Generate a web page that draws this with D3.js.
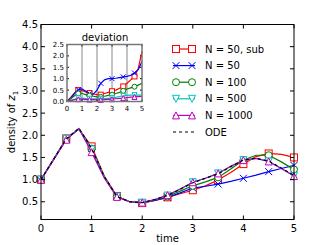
<!DOCTYPE html>
<html>
<head>
<meta charset="utf-8">
<script src="https://cdn.jsdelivr.net/npm/d3@7"></script>
<style>
	body{margin:0;background:#fff}
	svg{display:block;font-family:'DejaVu Sans',sans-serif}
</style>
</head>
<body>
<div id="chart"></div>
<script>
// time grid (0.25 steps), markers every 0.5 on the main plot
var time=[0,0.25,0.5,0.75,1,1.25,1.5,1.75,2,2.25,2.5,2.75,3,3.25,3.5,3.75,4,4.25,4.5,4.75,5]
var xTicks=[0,1,2,3,4,5]
var yTicks=[0.5,1.0,1.5,2.0,2.5,3.0,3.5,4.0,4.5]
var insetYTicks=[0.0,0.5,1.0,1.5,2.0,2.5]
var labels=['N = 50, sub','N = 50','N = 100','N = 500','N = 1000','ODE']

// density of z1
var densSub =[1.0,1.46,1.93,2.14,1.75,1.08,0.63,0.50,0.47,0.53,0.60,0.68,0.76,0.86,0.99,1.16,1.35,1.52,1.59,1.57,1.50]
var dens50  =[1.0,1.46,1.92,2.14,1.70,1.06,0.62,0.50,0.48,0.53,0.60,0.70,0.81,0.85,0.90,0.96,1.03,1.10,1.18,1.25,1.32]
var dens100 =[1.0,1.46,1.92,2.15,1.70,1.07,0.62,0.50,0.48,0.54,0.62,0.74,0.86,0.95,1.05,1.24,1.44,1.55,1.55,1.40,1.23]
var dens500 =[1.0,1.46,1.92,2.15,1.68,1.06,0.62,0.50,0.48,0.55,0.64,0.79,0.94,1.03,1.14,1.30,1.44,1.48,1.41,1.25,1.08]
var dens1000=[1.0,1.45,1.90,2.15,1.62,1.04,0.61,0.50,0.48,0.55,0.65,0.79,0.94,1.03,1.14,1.30,1.44,1.48,1.41,1.25,1.08]
var densODE =[1.0,1.46,1.92,2.16,1.70,1.07,0.62,0.50,0.48,0.55,0.64,0.78,0.93,1.03,1.13,1.29,1.44,1.48,1.42,1.26,1.10]

// deviation from ODE (inset)
var devSub =[0,0.18,0.38,0.50,0.48,0.42,0.37,0.33,0.30,0.30,0.35,0.40,0.45,0.50,0.58,0.66,0.80,0.95,1.10,1.45,2.20]
var dev50  =[0,0.15,0.35,0.52,0.55,0.45,0.34,0.32,0.50,0.80,0.95,1.00,1.00,1.02,1.05,1.08,1.10,1.15,1.25,1.40,1.75]
var dev100 =[0,0.12,0.25,0.35,0.35,0.30,0.26,0.23,0.20,0.20,0.23,0.27,0.30,0.35,0.40,0.47,0.55,0.60,0.65,0.72,0.80]
var dev500 =[0,0.05,0.10,0.15,0.15,0.13,0.12,0.12,0.12,0.12,0.13,0.14,0.15,0.18,0.22,0.25,0.27,0.28,0.28,0.28,0.28]
var dev1000=[0,0.04,0.08,0.10,0.10,0.09,0.08,0.08,0.07,0.07,0.08,0.09,0.10,0.12,0.14,0.15,0.17,0.19,0.20,0.21,0.22]

var styles=[
	{color:'#ff0000', marker:'square'},
	{color:'#0000ff', marker:'cross'},
	{color:'#008000', marker:'circle'},
	{color:'#00bfbf', marker:'triDown'},
	{color:'#bf00bf', marker:'triUp'},
	{color:'#000000', marker:null, dash:'3,3'}
]

var W=327, H=245
var svg=d3.select('#chart').append('svg').attr('width',W).attr('height',H)

function drawMarker(g, type, x, y, color, s){
	var h=s/2
	if(type=='square'){
		g.append('rect').attr('x',x-h).attr('y',y-h).attr('width',s).attr('height',s)
			.attr('fill','#fff').attr('stroke',color).attr('stroke-width',1)
	}else if(type=='circle'){
		g.append('circle').attr('cx',x).attr('cy',y).attr('r',h)
			.attr('fill','#fff').attr('stroke',color).attr('stroke-width',1)
	}else if(type=='cross'){
		g.append('path').attr('d','M'+(x-h)+','+(y-h)+'L'+(x+h)+','+(y+h)+'M'+(x-h)+','+(y+h)+'L'+(x+h)+','+(y-h))
			.attr('stroke',color).attr('stroke-width',1).attr('fill','none')
	}else if(type=='triUp'){
		g.append('path').attr('d','M'+x+','+(y-h)+'L'+(x+h)+','+(y+h)+'L'+(x-h)+','+(y+h)+'Z')
			.attr('fill','#fff').attr('stroke',color).attr('stroke-width',1)
	}else if(type=='triDown'){
		g.append('path').attr('d','M'+x+','+(y+h)+'L'+(x+h)+','+(y-h)+'L'+(x-h)+','+(y-h)+'Z')
			.attr('fill','#fff').attr('stroke',color).attr('stroke-width',1)
	}
}

function drawSeries(g, x, y, series, every, msize, lw, skipFirst){
	series.forEach(function(vals,i){
		var st=styles[i]
		var pts=time.map(function(t,j){ return [t, vals[j]] })
		var line=d3.line().x(function(d){ return x(d[0]) }).y(function(d){ return y(d[1]) })
		var p=g.append('path').datum(pts).attr('d',line)
			.attr('fill','none').attr('stroke',st.color).attr('stroke-width',lw)
		if(st.dash) p.attr('stroke-dasharray',st.dash)
		if(st.marker){
			pts.forEach(function(d,j){
				if(j%every==0 && !(skipFirst && j==0)) drawMarker(g, st.marker, x(d[0]), y(d[1]), st.color, msize)
			})
		}
	})
}

function frame(g, x, y, xt, yt, tick, fs, fmt, col, sw){
	var x0=x.range()[0], x1=x.range()[1], y0=y.range()[0], y1=y.range()[1]
	// ticks inward on all four sides
	xt.forEach(function(t){
		g.append('line').attr('x1',x(t)).attr('x2',x(t)).attr('y1',y0).attr('y2',y0-tick).attr('stroke','#000')
		g.append('line').attr('x1',x(t)).attr('x2',x(t)).attr('y1',y1).attr('y2',y1+tick).attr('stroke','#000')
		g.append('text').attr('x',x(t)).attr('y',y0+fs+2).attr('text-anchor','middle')
			.attr('font-size',fs).text(t)
	})
	yt.forEach(function(t){
		g.append('line').attr('x1',x0).attr('x2',x0+tick).attr('y1',y(t)).attr('y2',y(t)).attr('stroke','#000')
		g.append('line').attr('x1',x1).attr('x2',x1-tick).attr('y1',y(t)).attr('y2',y(t)).attr('stroke','#000')
		g.append('text').attr('x',x0-3).attr('y',y(t)).attr('dy','0.35em').attr('text-anchor','end')
			.attr('font-size',fs).text(d3.format(fmt)(t))
	})
	g.append('rect').attr('x',x0).attr('y',y1).attr('width',x1-x0).attr('height',y0-y1)
		.attr('fill','none').attr('stroke',col||'#000').attr('stroke-width',sw||1)
}

// main axes
var x=d3.scaleLinear().domain([0,5]).range([41,294])
var y=d3.scaleLinear().domain([0.1,4.5]).range([219.5,24.5])
var main=svg.append('g')
drawSeries(main, x, y, [densSub,dens50,dens100,dens500,dens1000,densODE], 2, 7, 1.2)
frame(main, x, y, xTicks, yTicks, 4, 10, '.1f')

main.append('text').attr('x',(41+294)/2).attr('y',242).attr('text-anchor','middle')
	.attr('font-size',10).text('time')
var yl=main.append('text').attr('transform','translate(15,'+((24+220)/2)+') rotate(-90)')
	.attr('text-anchor','middle').attr('font-size',10)
yl.append('tspan').text('density of ')
yl.append('tspan').attr('font-style','italic').text('z')
yl.append('tspan').attr('font-size',7).attr('dy',3).text('1')

// legend
var leg=svg.append('g')
labels.forEach(function(l,i){
	var st=styles[i], ly=49+i*16.6
	var ln=leg.append('line').attr('x1',173).attr('x2',195).attr('y1',ly).attr('y2',ly)
		.attr('stroke',st.color).attr('stroke-width',1.2)
	if(st.dash) ln.attr('stroke-dasharray',st.dash)
	if(st.marker){
		drawMarker(leg, st.marker, 176, ly, st.color, 7)
		drawMarker(leg, st.marker, 192, ly, st.color, 7)
	}
	leg.append('text').attr('x',205).attr('y',ly).attr('dy','0.35em').attr('font-size',10).text(l)
})

// inset
var xi=d3.scaleLinear().domain([0,5]).range([67,142])
var yi=d3.scaleLinear().domain([0,2.5]).range([101.5,44.5])
var ins=svg.append('g')
ins.append('rect').attr('x',67).attr('y',44.5).attr('width',75).attr('height',57).attr('fill','#fff')
;[1,2,3,4].forEach(function(t){
	ins.append('line').attr('x1',xi(t)).attr('x2',xi(t)).attr('y1',44.5).attr('y2',101.5)
		.attr('stroke','#888').attr('stroke-width',1)
})
drawSeries(ins, xi, yi, [devSub,dev50,dev100,dev500,dev1000], 3, 5, 1.2, true)
frame(ins, xi, yi, xTicks, insetYTicks, 2, 7, '.1f', '#777', 1.5)
ins.append('text').attr('x',105).attr('y',41).attr('text-anchor','middle').attr('font-size',10).text('deviation')
</script>
</body>
</html>
